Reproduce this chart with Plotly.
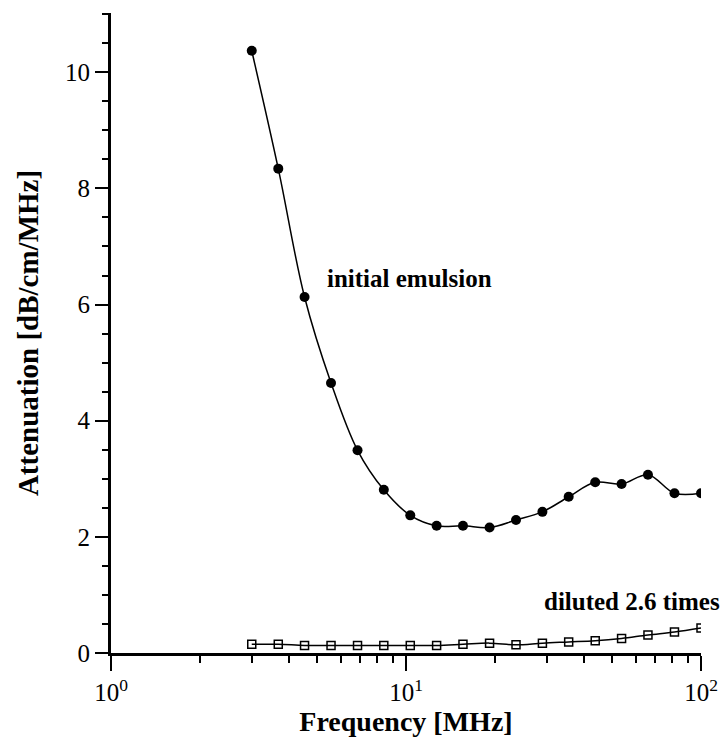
import plotly.graph_objects as go

freq_mhz = [3.0, 3.69, 4.53, 5.57, 6.85, 8.41, 10.34, 12.7, 15.6, 19.2,
            23.6, 29.0, 35.6, 43.8, 53.8, 66.1, 81.3, 100.0]
initial_emulsion = [10.37, 8.34, 6.13, 4.65, 3.49, 2.81, 2.37, 2.19, 2.19, 2.16,
                    2.29, 2.43, 2.69, 2.94, 2.91, 3.07, 2.75, 2.75]
diluted_2_6 = [0.15, 0.15, 0.13, 0.13, 0.13, 0.13, 0.13, 0.13, 0.15, 0.17,
               0.14, 0.17, 0.19, 0.21, 0.25, 0.31, 0.36, 0.43]

x_tickvals = [1, 10, 100]
x_ticktext = ["10<sup>0</sup>", "10<sup>1</sup>", "10<sup>2</sup>"]
x_minor = [2, 3, 4, 5, 6, 7, 8, 9, 20, 30, 40, 50, 60, 70, 80, 90]
y_tickvals = [0, 2, 4, 6, 8, 10]

SERIF = "Liberation Serif, Times New Roman, serif"

fig = go.Figure()
fig.add_trace(go.Scatter(
    x=freq_mhz, y=initial_emulsion, mode="lines+markers",
    line=dict(color="black", width=1.5, shape="spline"),
    marker=dict(symbol="circle", size=10, color="black"),
    showlegend=False))
fig.add_trace(go.Scatter(
    x=freq_mhz, y=diluted_2_6, mode="lines+markers",
    line=dict(color="black", width=1.5, shape="spline"),
    marker=dict(symbol="square-open", size=8, color="black", line=dict(width=1.5)),
    showlegend=False))

fig.add_annotation(x=1.011, y=6.45, xref="x", yref="y", text="<b>initial emulsion</b>",
                   showarrow=False, font=dict(family=SERIF, size=25, color="black"))
fig.add_annotation(x=1.767, y=0.88, xref="x", yref="y", text="<b>diluted 2.6 times</b>",
                   showarrow=False, font=dict(family=SERIF, size=25, color="black"))

fig.update_layout(
    width=723, height=742,
    margin=dict(l=111, r=22, t=13, b=89, autoexpand=False),
    plot_bgcolor="white", paper_bgcolor="white",
    font=dict(family=SERIF, color="black"),
    xaxis=dict(
        type="log", range=[0, 2],
        tickmode="array", tickvals=x_tickvals, ticktext=x_ticktext,
        ticks="outside", ticklen=15, tickwidth=1.5, tickcolor="black",
        minor=dict(tickmode="array", tickvals=x_minor, ticks="outside",
                   ticklen=7, tickwidth=1.5, tickcolor="black", showgrid=False),
        showline=True, linewidth=3, linecolor="black",
        showgrid=False, zeroline=False,
        tickfont=dict(family=SERIF, size=25, color="black"),
        title=dict(text="<b>Frequency [MHz]</b>", standoff=2,
                   font=dict(family=SERIF, size=28, color="black")),
    ),
    yaxis=dict(
        range=[0, 11.02],
        tickmode="array", tickvals=y_tickvals,
        ticks="outside", ticklen=13, tickwidth=1.5, tickcolor="black",
        minor=dict(dtick=0.5, ticks="outside", ticklen=6, tickwidth=1.5,
                   tickcolor="black", showgrid=False),
        showline=True, linewidth=3, linecolor="black",
        showgrid=False, zeroline=False,
        tickfont=dict(family=SERIF, size=25, color="black"),
        title=dict(text="<b>Attenuation [dB/cm/MHz]</b>", standoff=18,
                   font=dict(family=SERIF, size=29, color="black")),
    ),
)

fig.write_html("out.html", config={"displayModeBar": False},
               post_script="document.body.style.margin='0';document.body.style.overflow='hidden';")
